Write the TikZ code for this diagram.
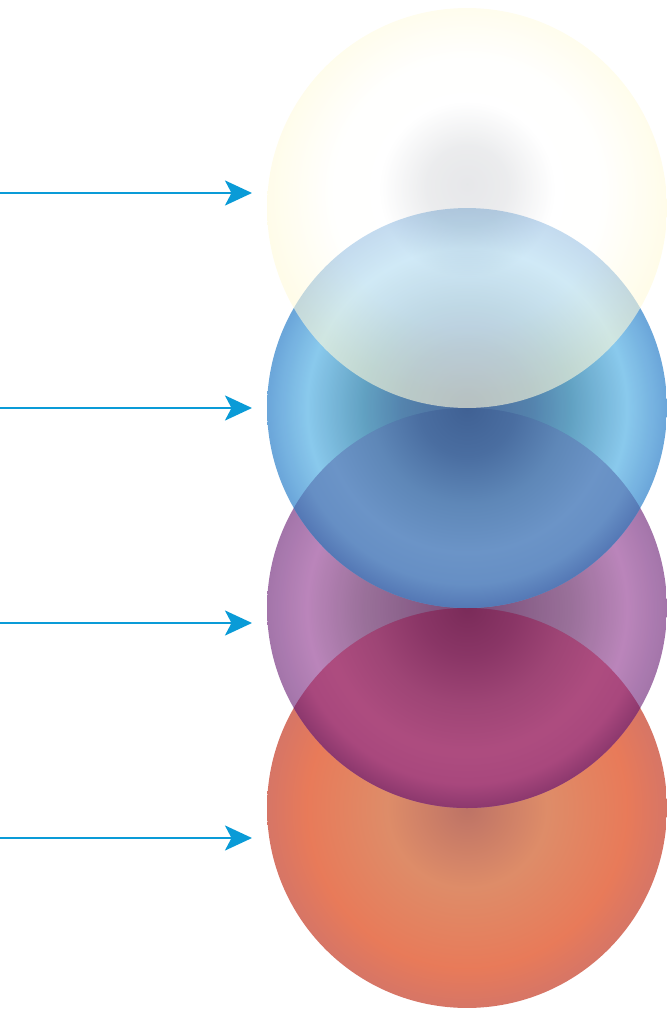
\documentclass[tikz,border=0pt]{standalone}
\usetikzlibrary{arrows.meta}
\definecolor{arrowblue}{RGB}{10,155,215}
% radial fills of the four balls
\pgfdeclareradialshading{yellowball}{\pgfpoint{0bp}{3bp}}{%
  rgb(0bp)=(0.84,0.845,0.86); rgb(5bp)=(0.87,0.875,0.885); rgb(11bp)=(1,1,1);
  rgb(17bp)=(1,1,0.99); rgb(25bp)=(1,0.98,0.86); rgb(50bp)=(1,0.98,0.86)}
\pgfdeclareradialshading{blueball}{\pgfpoint{0bp}{0bp}}{%
  rgb(0bp)=(0.24,0.37,0.58); rgb(8bp)=(0.27,0.47,0.65); rgb(13bp)=(0.33,0.6,0.74);
  rgb(20bp)=(0.5,0.77,0.92); rgb(25bp)=(0.37,0.62,0.84); rgb(50bp)=(0.37,0.62,0.84)}
\pgfdeclareradialshading{purpleball}{\pgfpoint{0bp}{0bp}}{%
  rgb(0bp)=(0.42,0.2,0.4); rgb(8bp)=(0.5,0.32,0.5); rgb(13bp)=(0.56,0.38,0.56);
  rgb(20bp)=(0.7,0.47,0.7); rgb(25bp)=(0.6,0.4,0.63); rgb(50bp)=(0.6,0.4,0.63)}
\pgfdeclareradialshading{orangeball}{\pgfpoint{0bp}{0bp}}{%
  rgb(0bp)=(0.74,0.45,0.4); rgb(10bp)=(0.87,0.55,0.41); rgb(20bp)=(0.91,0.48,0.35);
  rgb(25bp)=(0.84,0.46,0.4); rgb(50bp)=(0.84,0.46,0.4)}
% where two balls overlap
\pgfdeclareradialshading{bluelens}{\pgfpoint{0bp}{0bp}}{%
  rgb(0bp)=(0.25,0.38,0.58); rgb(6bp)=(0.29,0.43,0.63); rgb(12bp)=(0.37,0.53,0.72);
  rgb(18bp)=(0.42,0.58,0.78); rgb(22bp)=(0.4,0.56,0.77); rgb(25bp)=(0.33,0.47,0.71);
  rgb(50bp)=(0.33,0.47,0.71)}
\pgfdeclareradialshading{purplelens}{\pgfpoint{0bp}{0bp}}{%
  rgb(0bp)=(0.48,0.17,0.35); rgb(6bp)=(0.54,0.21,0.4); rgb(12bp)=(0.62,0.27,0.46);
  rgb(18bp)=(0.68,0.3,0.5); rgb(22bp)=(0.66,0.28,0.49); rgb(25bp)=(0.55,0.22,0.43);
  rgb(50bp)=(0.55,0.22,0.43)}
\begin{document}
\begin{tikzpicture}[x=0.02cm, y=-0.02cm,
    ball/.style={circle, minimum size=8cm, inner sep=0pt},
    pointer/.style={arrowblue, line width=1.4pt,
      -{Stealth[length=5.4mm, width=5mm, inset=1.3mm]}}]
  \useasboundingbox (0,0) rectangle (667,1010);
  % balls, bottom one first
  \node[ball, shading=orangeball] (orange) at (467,808) {};
  \node[ball, shading=purpleball, fill opacity=0.9] (purple) at (467,608) {};
  \begin{scope}
    \clip (orange.center) circle[radius=200];
    \shade[shading=purplelens] (purple.center) circle[radius=200];
  \end{scope}
  \node[ball, shading=blueball, fill opacity=0.92] (blue) at (467,408) {};
  \begin{scope}
    \clip (purple.center) circle[radius=200];
    \shade[shading=bluelens] (blue.center) circle[radius=200];
  \end{scope}
  \node[ball, shading=yellowball, fill opacity=0.6] (yellow) at (467,208) {};
  % arrows
  \foreach \y/\n in {193/a, 408/b, 623/c, 838/d} {
    \coordinate (\n0) at (0,\y);
    \coordinate (\n1) at (252,\y);
    \draw[pointer] (\n0) -- (\n1);
  }
\end{tikzpicture}
\end{document}
